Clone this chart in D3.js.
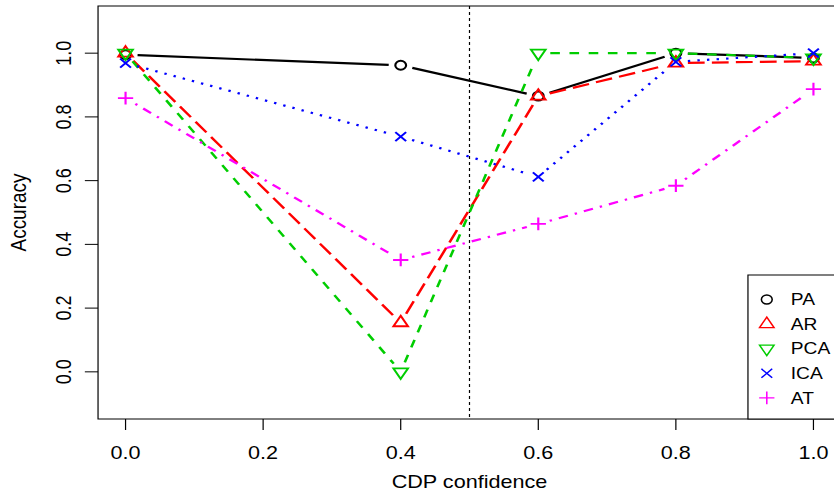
<!DOCTYPE html>
<html>
<head>
<meta charset="utf-8">
<script src="https://cdn.jsdelivr.net/npm/d3@7"></script>
<style>
  html, body { margin: 0; padding: 0; background: #fff; }
  svg { display: block; }
  text { font-family: "Liberation Sans", Arial, sans-serif; }
</style>
</head>
<body>
<div id="chart"></div>
<script>
// values
var confidence = [0, 0.4, 0.6, 0.8, 1.0];
var paAcc  = [0.995, 0.962, 0.865, 1.0, 0.985];
var arAcc  = [1.0, 0.154, 0.865, 0.969, 0.975];
var pcaAcc = [1.0, 0.0, 1.0, 1.0, 0.985];
var icaAcc = [0.969, 0.738, 0.612, 0.973, 1.0];
var atAcc  = [0.859, 0.351, 0.464, 0.584, 0.887];
var seriesNames = ["PA", "AR", "PCA", "ICA", "AT"];
var xTicks = [0, 0.2, 0.4, 0.6, 0.8, 1.0];
var yTicks = [0, 0.2, 0.4, 0.6, 0.8, 1.0];
var cutoff = 0.5;

var series = [
  { values: paAcc,  color: "#000000", dash: null,      shape: "circle" },
  { values: arAcc,  color: "#ff0000", dash: "14,6",    shape: "up" },
  { values: pcaAcc, color: "#00cd00", dash: "8,8",     shape: "down" },
  { values: icaAcc, color: "#0000ff", dash: "2,6",     shape: "cross" },
  { values: atAcc,  color: "#ff00ff", dash: "2,6,8,6", shape: "plus" }
];

// the original is stretched sideways, so draw in a narrower box and let it stretch
var W = 695, H = 493;
var svg = d3.select("#chart").append("svg")
    .attr("width", 834)
    .attr("height", 493)
    .attr("viewBox", "0 0 " + W + " " + H)
    .attr("preserveAspectRatio", "none");

var pL = 81.7, pR = 700.8, pT = 6, pB = 419;
var x = d3.scaleLinear().domain([-0.04, 1.04]).range([pL, pR]);
var y = d3.scaleLinear().domain([-0.148, 1.148]).range([pB, pT]);
var fs = 18;

var R0 = 4.5;
function drawSymbol(g, shape, cx, cy, color, sw) {
  if (shape === "circle") {
    g.append("circle").attr("cx", cx).attr("cy", cy).attr("r", R0)
      .attr("fill", "none").attr("stroke", color).attr("stroke-width", sw);
    return;
  }
  var p = d3.path();
  if (shape === "up") {
    p.moveTo(cx, cy - 1.555 * R0);
    p.lineTo(cx + 1.347 * R0, cy + 0.778 * R0);
    p.lineTo(cx - 1.347 * R0, cy + 0.778 * R0);
    p.closePath();
  } else if (shape === "down") {
    p.moveTo(cx, cy + 1.555 * R0);
    p.lineTo(cx + 1.347 * R0, cy - 0.778 * R0);
    p.lineTo(cx - 1.347 * R0, cy - 0.778 * R0);
    p.closePath();
  } else if (shape === "cross") {
    p.moveTo(cx - R0, cy - R0); p.lineTo(cx + R0, cy + R0);
    p.moveTo(cx - R0, cy + R0); p.lineTo(cx + R0, cy - R0);
  } else if (shape === "plus") {
    var a = 1.414 * R0;
    p.moveTo(cx - a, cy); p.lineTo(cx + a, cy);
    p.moveTo(cx, cy - a); p.lineTo(cx, cy + a);
  }
  g.append("path").attr("d", p.toString())
    .attr("fill", "none").attr("stroke", color).attr("stroke-width", sw);
}

// cutoff line
svg.append("line")
  .attr("x1", x(cutoff)).attr("x2", x(cutoff))
  .attr("y1", pT).attr("y2", pB)
  .attr("stroke", "#000").attr("stroke-width", 1)
  .attr("stroke-dasharray", "3,3");

// series: type "b" lines with gaps around the points
var gap = 10;
series.forEach(function (s) {
  var g = svg.append("g");
  var pts = confidence.map(function (c, i) { return [x(c), y(s.values[i])]; });
  for (var i = 0; i < pts.length - 1; i++) {
    var dx = pts[i + 1][0] - pts[i][0], dy = pts[i + 1][1] - pts[i][1];
    var len = Math.sqrt(dx * dx + dy * dy);
    if (len <= 2 * gap) continue;
    var ux = dx / len, uy = dy / len;
    g.append("line")
      .attr("x1", pts[i][0] + ux * gap).attr("y1", pts[i][1] + uy * gap)
      .attr("x2", pts[i + 1][0] - ux * gap).attr("y2", pts[i + 1][1] - uy * gap)
      .attr("stroke", s.color).attr("stroke-width", 2.2)
      .attr("stroke-dasharray", s.dash);
  }
  pts.forEach(function (p) { drawSymbol(g, s.shape, p[0], p[1], s.color, 1.8); });
});

// box
svg.append("rect")
  .attr("x", pL).attr("y", pT)
  .attr("width", pR - pL).attr("height", pB - pT)
  .attr("fill", "none").attr("stroke", "#000").attr("stroke-width", 1);

// x axis
var tick = 11;
svg.selectAll(".xt").data(xTicks).enter().append("line")
  .attr("x1", function (d) { return x(d); }).attr("x2", function (d) { return x(d); })
  .attr("y1", pB).attr("y2", pB + tick)
  .attr("stroke", "#000").attr("stroke-width", 1);
svg.selectAll(".xl").data(xTicks).enter().append("text")
  .attr("x", function (d) { return x(d); })
  .attr("y", 459)
  .attr("text-anchor", "middle")
  .attr("font-size", fs)
  .text(function (d) { return d.toFixed(1); });
svg.append("text")
  .attr("x", (pL + pR) / 2).attr("y", 488)
  .attr("text-anchor", "middle").attr("font-size", fs)
  .text("CDP confidence");

// y axis
svg.selectAll(".yt").data(yTicks).enter().append("line")
  .attr("x1", pL - tick).attr("x2", pL)
  .attr("y1", function (d) { return y(d); }).attr("y2", function (d) { return y(d); })
  .attr("stroke", "#000").attr("stroke-width", 1);
svg.selectAll(".yl").data(yTicks).enter().append("text")
  .attr("transform", function (d) { return "translate(59.5," + y(d) + ") rotate(-90)"; })
  .attr("text-anchor", "middle")
  .attr("font-size", fs)
  .text(function (d) { return d.toFixed(1); });
svg.append("text")
  .attr("transform", "translate(22," + ((pT + pB) / 2) + ") rotate(-90)")
  .attr("text-anchor", "middle").attr("font-size", 19)
  .text("Accuracy");

// legend
var lg = svg.append("g");
lg.append("rect")
  .attr("x", 623.3).attr("y", 275)
  .attr("width", pR - 623.3).attr("height", pB - 275)
  .attr("fill", "#fff").attr("stroke", "#000").attr("stroke-width", 1);
series.forEach(function (s, i) {
  var ly = 299.5 + i * 24.6;
  drawSymbol(lg, s.shape, 639, ly, s.color, 1.3);
  lg.append("text")
    .attr("x", 659).attr("y", ly + 5.8)
    .attr("font-size", 16)
    .text(seriesNames[i]);
});
</script>
</body>
</html>
